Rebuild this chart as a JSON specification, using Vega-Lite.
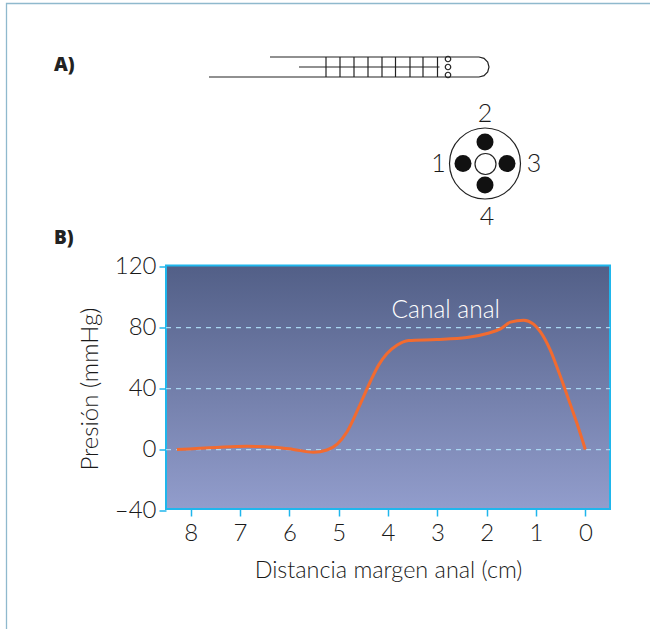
{
"$schema":"https://vega.github.io/schema/vega-lite/v6.json",
"autosize":"none",
"width":444,"height":243.5,
"padding":{"left":166,"top":265.5,"right":40,"bottom":120},
"background":"white",
"config":{"view":{"stroke":null},"font":"Lato"},
"datasets":{
"curve":[{"cm":8.28,"p":0},{"cm":7.47,"p":1.4},{"cm":6.86,"p":2.1},{"cm":6.25,"p":1.4},{"cm":5.92,"p":0.1},{"cm":5.51,"p":-1.8},{"cm":5.24,"p":-0.3},{"cm":5.03,"p":3.6},{"cm":4.83,"p":11.7},{"cm":4.56,"p":30},{"cm":4.36,"p":44.5},{"cm":4.19,"p":55.4},{"cm":4.02,"p":63},{"cm":3.82,"p":68.5},{"cm":3.58,"p":71.6},{"cm":3.01,"p":72.2},{"cm":2.4,"p":73.5},{"cm":1.99,"p":76.2},{"cm":1.72,"p":79.2},{"cm":1.52,"p":83.6},{"cm":1.25,"p":84.9},{"cm":1.05,"p":82.3},{"cm":0.91,"p":77.2},{"cm":0.71,"p":65.2},{"cm":0.54,"p":51},{"cm":0.37,"p":35.7},{"cm":0.17,"p":17.2},{"cm":0,"p":0}],
"grid":[{"p":80},{"p":40},{"p":0}],
"probe":[
{"k":"a","i":0,"dx":20.9,"dy":7.7},{"k":"a","i":1,"dx":47.9,"dy":7.7},{"k":"a","i":2,"dx":48.4,"dy":7.57},{"k":"a","i":3,"dx":48.77,"dy":7.2},{"k":"a","i":4,"dx":48.9,"dy":6.7},{"k":"a","i":5,"dx":48.77,"dy":6.2},{"k":"a","i":6,"dx":48.4,"dy":5.83},{"k":"a","i":7,"dx":47.9,"dy":5.7},{"k":"a","i":8,"dx":27,"dy":5.7},
{"k":"b","i":0,"dx":29.9,"dy":6.7},{"k":"b","i":1,"dx":43.95,"dy":6.7},
{"k":"g1","i":0,"dx":32.6,"dy":5.7},{"k":"g1","i":1,"dx":32.6,"dy":7.7},
{"k":"g2","i":0,"dx":34,"dy":5.7},{"k":"g2","i":1,"dx":34,"dy":7.7},
{"k":"g3","i":0,"dx":35.4,"dy":5.7},{"k":"g3","i":1,"dx":35.4,"dy":7.7},
{"k":"g4","i":0,"dx":36.8,"dy":5.7},{"k":"g4","i":1,"dx":36.8,"dy":7.7},
{"k":"g5","i":0,"dx":38.2,"dy":5.7},{"k":"g5","i":1,"dx":38.2,"dy":7.7},
{"k":"g6","i":0,"dx":39.55,"dy":5.7},{"k":"g6","i":1,"dx":39.55,"dy":7.7},
{"k":"g7","i":0,"dx":41,"dy":5.7},{"k":"g7","i":1,"dx":41,"dy":7.7},
{"k":"g8","i":0,"dx":42.3,"dy":5.7},{"k":"g8","i":1,"dx":42.3,"dy":7.7},
{"k":"g9","i":0,"dx":43.75,"dy":5.7},{"k":"g9","i":1,"dx":43.75,"dy":7.7}
],
"frame":[{"i":0,"dx":65,"dy":0.35},{"i":1,"dx":0.65,"dy":0.35},{"i":2,"dx":0.65,"dy":62.9}],
"holes":[{"dx":44.8,"dy":5.9},{"dx":44.8,"dy":6.7},{"dx":44.8,"dy":7.5}],
"black":[{"dx":48.5,"dy":14.2},{"dx":48.5,"dy":18.5},{"dx":46.3,"dy":16.35},{"dx":50.7,"dy":16.35}],
"labels":[{"t":"2","dx":48.5,"dy":11.4},{"t":"1","dx":43.85,"dy":16.4},{"t":"3","dx":53.4,"dy":16.4},{"t":"4","dx":48.7,"dy":21.7}],
"panels":[{"t":"A)","dx":5.4,"dy":6.5},{"t":"B)","dx":5.4,"dy":23.8}]
},
"layer":[
{"layer":[
{"data":{"values":[{"a":8.5,"b":-0.5,"c":120.8,"d":-39}]},"mark":{"type":"rect","stroke":"#1fb6ec","strokeWidth":2,"fill":{"gradient":"linear","x1":0,"y1":0,"x2":0,"y2":1,"stops":[{"offset":0,"color":"#525f87"},{"offset":1,"color":"#929dcc"}]}},
 "encoding":{"x":{"field":"a","type":"quantitative","scale":{"domain":[8.5,-0.5],"nice":false,"zero":false},
   "axis":{"values":[8,7,6,5,4,3,2,1,0],"title":"Distancia margen anal (cm)","titleFont":"Lato","titleFontWeight":300,"titleFontSize":23.4,"titleColor":"#1a1a1a","titlePadding":14,"labelFontSize":24,"labelFontWeight":300,"labelColor":"#1a1a1a","labelPadding":5,"tickColor":"#1fb6ec","tickSize":7,"tickWidth":1.5,"domain":false,"grid":false,"labelFlush":false}},
  "x2":{"field":"b"},
  "y":{"field":"c","type":"quantitative","scale":{"domain":[-40,120],"range":[245,1.2],"nice":false,"zero":false},
   "axis":{"values":[120,80,40,0,-40],"title":"Presión (mmHg)","titleFontWeight":300,"titleFontSize":24,"titleColor":"#1a1a1a","titlePadding":12,"labelFontSize":24,"labelFontWeight":300,"labelColor":"#1a1a1a","labelPadding":3,"tickColor":"#1fb6ec","tickSize":7,"tickWidth":1.5,"domain":false,"grid":false,"labelExpr":"replace(datum.label,'−','–')"}},
  "y2":{"field":"d"}}},
{"data":{"name":"grid"},"mark":{"type":"rule","stroke":"#a9d8f2","strokeWidth":1.3,"strokeDash":[5,5]},
 "encoding":{"y":{"field":"p","type":"quantitative"},"x":{"datum":8.5,"type":"quantitative"},"x2":{"datum":-0.5}}},
{"data":{"name":"curve"},"mark":{"type":"line","stroke":"#f26b30","strokeWidth":3,"interpolate":"monotone"},
 "encoding":{"x":{"field":"cm","type":"quantitative"},"y":{"field":"p","type":"quantitative"}}},
{"data":{"values":[{"t":"Canal anal","cm":2.83,"p":91}]},"mark":{"type":"text","color":"#ffffff","fontSize":24.5,"fontWeight":300,"font":"Lato","align":"center","baseline":"middle"},
 "encoding":{"x":{"field":"cm","type":"quantitative"},"y":{"field":"p","type":"quantitative"},"text":{"field":"t"}}}
]},
{"layer":[
{"data":{"name":"frame"},"mark":{"type":"line","stroke":"#8fb9cd","strokeWidth":1.3},
 "encoding":{"x":{"field":"dx","type":"quantitative","scale":{"domain":[0,65],"range":[-166,484],"nice":false,"zero":false},"axis":null},"y":{"field":"dy","type":"quantitative","scale":{"domain":[0,62.9],"range":[-265.5,363.5],"nice":false,"zero":false},"axis":null},"order":{"field":"i"}}},
{"data":{"name":"probe"},"mark":{"type":"line","stroke":"#222222","strokeWidth":1.2},
 "encoding":{"x":{"field":"dx","type":"quantitative"},"y":{"field":"dy","type":"quantitative"},"detail":{"field":"k"},"order":{"field":"i"}}},
{"data":{"name":"holes"},"mark":{"type":"point","shape":"circle","filled":false,"stroke":"#222222","strokeWidth":1.2,"size":30,"opacity":1},
 "encoding":{"x":{"field":"dx","type":"quantitative"},"y":{"field":"dy","type":"quantitative"}}},
{"data":{"values":[{"dx":48.5,"dy":16.35}]},"mark":{"type":"point","shape":"circle","filled":false,"stroke":"#222222","strokeWidth":1.2,"size":5041,"opacity":1},
 "encoding":{"x":{"field":"dx","type":"quantitative"},"y":{"field":"dy","type":"quantitative"}}},
{"data":{"values":[{"dx":48.55,"dy":16.4}]},"mark":{"type":"point","shape":"circle","filled":false,"stroke":"#222222","strokeWidth":1.2,"size":441,"opacity":1},
 "encoding":{"x":{"field":"dx","type":"quantitative"},"y":{"field":"dy","type":"quantitative"}}},
{"data":{"name":"black"},"mark":{"type":"point","shape":"circle","filled":true,"fill":"#111111","size":289,"opacity":1},
 "encoding":{"x":{"field":"dx","type":"quantitative"},"y":{"field":"dy","type":"quantitative"}}},
{"data":{"name":"labels"},"mark":{"type":"text","fontSize":25,"fontWeight":300,"font":"Lato","color":"#1a1a1a","align":"center","baseline":"middle"},
 "encoding":{"x":{"field":"dx","type":"quantitative"},"y":{"field":"dy","type":"quantitative"},"text":{"field":"t"}}},
{"data":{"name":"panels"},"mark":{"type":"text","fontSize":19,"font":"Open Sans","fontWeight":800,"color":"#222222","align":"left","baseline":"middle"},
 "encoding":{"x":{"field":"dx","type":"quantitative"},"y":{"field":"dy","type":"quantitative"},"text":{"field":"t"}}}
]}
],
"resolve":{"scale":{"x":"independent","y":"independent"}}
}
